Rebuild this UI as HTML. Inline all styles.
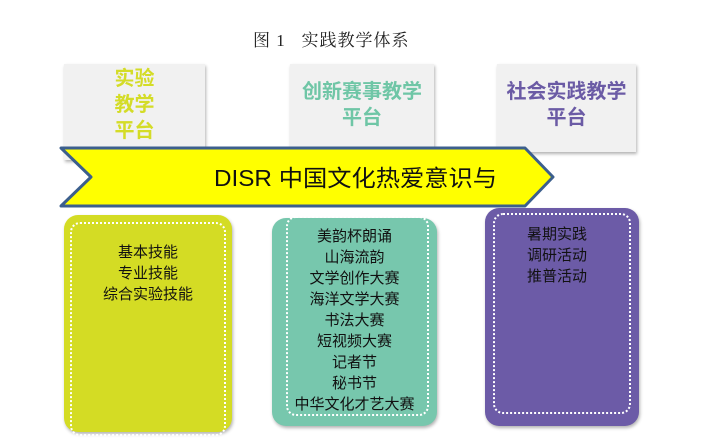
<!DOCTYPE html>
<html><head><meta charset="utf-8"><style>
body{margin:0;width:721px;height:445px;background:#fff;position:relative;overflow:hidden;font-family:"Liberation Sans","Noto Sans CJK SC",sans-serif}
.a{position:absolute}
.top{background:#f1f1f1;box-shadow:1px 2px 3px rgba(0,0,0,.3);font-weight:bold;font-size:20px;text-align:center;line-height:26px}
.bot{border-radius:14px;box-shadow:1px 2px 3px rgba(0,0,0,.3)}
.dot{position:absolute;border:2px dotted #fff;border-radius:10px}
.txt{position:absolute;left:0;right:0;text-align:center;font-size:15px;line-height:21px;color:#111}
</style></head><body>
<div class="a" style="left:253px;top:26px;font-family:'Liberation Serif','Noto Serif CJK SC',serif;font-size:17px;color:#222;letter-spacing:1px">图 1&nbsp;&nbsp;&nbsp;实践教学体系</div>
<div class="a top" style="left:64px;top:64px;width:141px;height:96px;color:#d4dc27;padding-top:2px;box-sizing:border-box">实验<br>教学<br>平台</div>
<div class="a top" style="left:290px;top:64px;width:144px;height:86px;color:#6fc6a6;padding-top:15px;box-sizing:border-box">创新赛事教学<br>平台</div>
<div class="a top" style="left:497px;top:64px;width:139px;height:88px;color:#6b5ba5;padding-top:15px;box-sizing:border-box">社会实践教学<br>平台</div>
<svg class="a" style="left:0;top:0" width="721" height="445">
<polygon points="61,148 525,148 553,177 525,206 61,206 91,177" fill="#ffff00" stroke="#3c5f8d" stroke-width="3" stroke-linejoin="round"/>
<text x="214" y="186" font-family="Liberation Sans,'Noto Sans CJK SC',sans-serif" font-size="23" fill="#111" textLength="283" lengthAdjust="spacingAndGlyphs">DISR 中国文化热爱意识与</text>
</svg>
<div class="a bot" style="left:64px;top:215px;width:168px;height:217px;background:#d4dc24">
<div class="dot" style="left:6px;top:7px;right:6px;bottom:-4px"></div>
<div class="txt" style="top:27px">基本技能<br>专业技能<br>综合实验技能</div></div>
<div class="a bot" style="left:272px;top:218px;width:165px;height:208px;background:#77c7ad">
<div class="dot" style="left:14px;top:-2px;right:8px;bottom:10px"></div>
<div class="txt" style="top:8px">美韵杯朗诵<br>山海流韵<br>文学创作大赛<br>海洋文学大赛<br>书法大赛<br>短视频大赛<br>记者节<br>秘书节<br>中华文化才艺大赛</div></div>
<div class="a bot" style="left:485px;top:208px;width:154px;height:218px;background:#6c5ba7">
<div class="dot" style="left:8px;top:5px;right:8px;bottom:12px"></div>
<div class="txt" style="top:16px;left:-10px">暑期实践<br>调研活动<br>推普活动</div></div>
</body></html>
